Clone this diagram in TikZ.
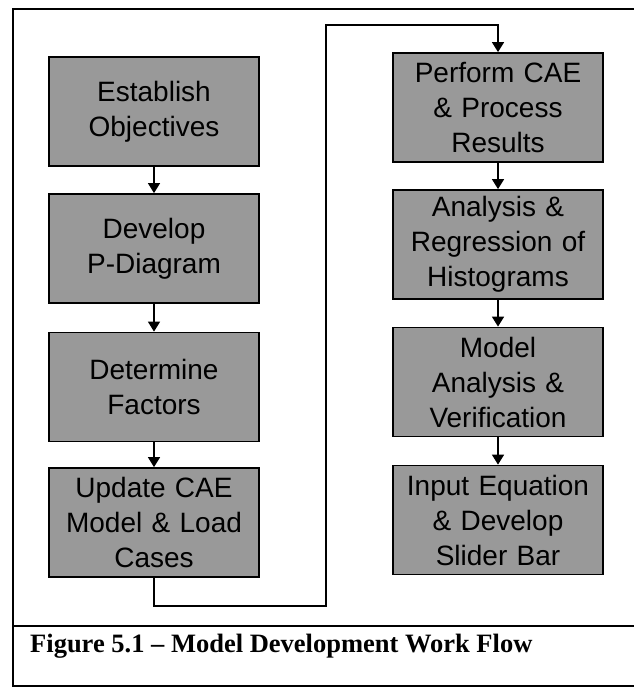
\documentclass[tikz,border=0pt]{standalone}
\usepackage{fontspec}
\setmainfont{Liberation Sans}
\newfontfamily\capfont{Liberation Serif}
\usetikzlibrary{arrows.meta}

\tikzset{
  stepbox/.style={draw=black, line width=1.8pt, fill=black!40,
    minimum width=210pt, minimum height=109pt, inner sep=0pt,
    text width=205pt, align=center,
    font=\fontsize{28pt}{35pt}\selectfont},
  flow/.style={line width=1.6pt, -{Triangle[length=10pt,width=12pt]}},
  frame/.style={line width=2pt}
}

\begin{document}
\begin{tikzpicture}[x=1pt,y=-1pt]
  \useasboundingbox (0,0) rectangle (634,688);

  % outer frame, open on the right, with caption strip
  \draw[frame] (634,9) -- (13,9) -- (13,686) -- (634,686);
  \draw[frame] (13,626) -- (634,626);

  % left column
  \node[stepbox] (est) at (154,111.5) {Establish\\Objectives};
  \node[stepbox] (dev) at (154,248.5) {Develop\\P-Diagram};
  \node[stepbox] (det) at (154,387)   {Determine\\Factors};
  \node[stepbox] (upd) at (154,522.5) {Update CAE\\Model \& Load\\Cases};

  % right column
  \node[stepbox] (per) at (498,107.5) {Perform CAE\\\& Process\\Results};
  \node[stepbox] (ana) at (498,244.5) {Analysis \&\\Regression of\\Histograms};
  \node[stepbox] (mod) at (498,382)   {Model\\Analysis \&\\Verification};
  \node[stepbox] (inp) at (498,520)   {Input Equation\\\& Develop\\Slider Bar};

  % arrows within columns
  \draw[flow] (est) -- (dev);
  \draw[flow] (dev) -- (det);
  \draw[flow] (det) -- (upd);
  \draw[flow] (per) -- (ana);
  \draw[flow] (ana) -- (mod);
  \draw[flow] (mod) -- (inp);

  % return path from the left column to the top of the right column
  \coordinate (lowturn) at (326,606);
  \coordinate (highturn) at (326,25);
  \draw[flow] (upd.south) |- (lowturn) -- (highturn) -| (per.north);

  % caption
  \node[anchor=base west, inner sep=0pt] (cap) at (30,652)
    {\capfont\bfseries\fontsize{26.5pt}{30pt}\selectfont Figure 5.1 – Model Development Work Flow};
\end{tikzpicture}
\end{document}
